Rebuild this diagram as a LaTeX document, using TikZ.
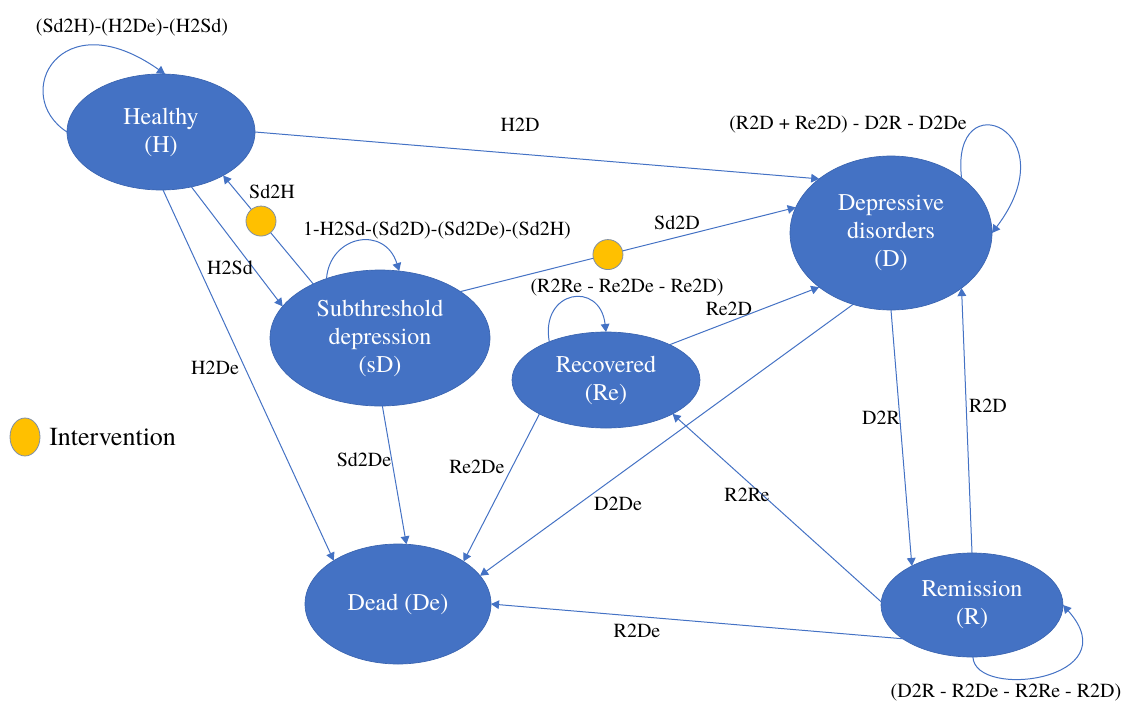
\documentclass[tikz,border=0pt]{standalone}
\usepackage{fontspec}
\setmainfont{texgyretermes}[Extension=.otf, UprightFont=*-regular, BoldFont=*-bold, ItalicFont=*-italic, BoldItalicFont=*-bolditalic]
\usetikzlibrary{arrows.meta,shapes.geometric}
\definecolor{nodeblue}{HTML}{4472C4}
\definecolor{nodeedge}{HTML}{3A64B0}
\definecolor{intv}{HTML}{FFC000}
\definecolor{intvedge}{HTML}{7F8FA6}
\begin{document}
\begin{tikzpicture}[x=0.75pt,y=-0.75pt,
 state/.style={ellipse, fill=nodeblue, draw=nodeedge, line width=0.5pt, inner sep=0pt, outer sep=0pt, text=white, align=center, font=\fontsize{18}{21}\selectfont},
 lbl/.style={font=\fontsize{15}{18}\selectfont, inner sep=0pt},
 flow/.style={draw=nodeblue, line width=0.75pt, -{Triangle[length=6pt,width=6.5pt]}},
 interv/.style={circle, fill=intv, draw=intvedge, line width=0.6pt, minimum size=22.5pt, inner sep=0pt},
]
\useasboundingbox (0,0) rectangle (1126,706);

% states
\node[state, minimum width=141pt, minimum height=87pt] (H) at (161,132) {Healthy\\(H)};
\node[state, minimum width=151.5pt, minimum height=115.5pt] (D) at (891,233) {Depressive\\disorders\\(D)};
\node[state, minimum width=165pt, minimum height=102pt] (sD) at (380,338) {Subthreshold\\depression\\(sD)};
\node[state, minimum width=141pt, minimum height=72pt] (Re) at (606,380) {Recovered\\(Re)};
\node[state, minimum width=139.5pt, minimum height=90pt] (De) at (398,604) {Dead (De)};
\node[state, minimum width=136.5pt, minimum height=78pt] (R) at (972,605) {Remission\\(R)};

% connectors
\draw[flow] (H.180) .. controls (10,95) and (60,0) .. (H.86);
\draw[flow] (H.0) -- (D.143);
\draw[flow] (sD.141) -- node[interv,pos=0.58] (i1) {} (H.-35);
\draw[flow] (H.-61) -- (sD.162);
\draw[flow] (H.-88) -- (De.146);
\draw[flow] (sD.132) .. controls (330,235) and (385,225) .. (sD.74);
\draw[flow] (sD.30) -- node[interv,pos=0.44] (i2) {} (D.165);
\draw[flow] (sD.-88) -- (De.82);
\draw[flow] (Re.146) .. controls (540,290) and (600,280) .. (Re.90);
\draw[flow] (Re.29) -- (D.-143);
\draw[flow] (Re.-153) -- (De.33);
\draw[flow] (D.-118) -- (De.19);
\draw[flow] (D.-90) -- (R.147);
\draw[flow] (R.90) -- (D.-38);
\draw[flow] (D.38) .. controls (950,80) and (1070,130) .. (D.0);
\draw[flow] (R.178) -- (Re.-27);
\draw[flow] (R.-154) -- (De.0);
\draw[flow] (R.-89) .. controls (975,700) and (1130,680) .. (R.0);

% labels
\node[lbl] (l1) at (132,27) {(Sd2H)-(H2De)-(H2Sd)};
\node[lbl] (l2) at (520,125) {H2D};
\node[lbl] (l3) at (848,125) {(R2D + Re2D) - D2R - D2De};
\node[lbl] (l4) at (272,192) {Sd2H};
\node[lbl] (l5) at (437,230) {1-H2Sd-(Sd2D)-(Sd2De)-(Sd2H)};
\node[lbl] (l6) at (677,223) {Sd2D};
\node[lbl] (l7) at (230,268) {H2Sd};
\node[lbl] (l8) at (627,288) {(R2Re - Re2De - Re2D)};
\node[lbl] (l9) at (729,309) {Re2D};
\node[lbl] (l10) at (215,368) {H2De};
\node[lbl] (l11) at (364,460) {Sd2De};
\node[lbl] (l12) at (477,467) {Re2De};
\node[lbl] (l13) at (618,504) {D2De};
\node[lbl] (l14) at (747,495) {R2Re};
\node[lbl] (l15) at (881,418) {D2R};
\node[lbl] (l16) at (988,406) {R2D};
\node[lbl] (l17) at (637,631) {R2De};
\node[lbl] (l18) at (1006,693) {(D2R - R2De - R2Re - R2D)};

% legend
\node[ellipse, fill=intv, draw=intvedge, line width=0.6pt, minimum width=22.5pt, minimum height=28.5pt, inner sep=0pt] (lg) at (25,437) {};
\node[font=\fontsize{19.5}{22}\selectfont, anchor=west, inner sep=0pt] (lgt) at (49,437) {Intervention};
\end{tikzpicture}
\end{document}
